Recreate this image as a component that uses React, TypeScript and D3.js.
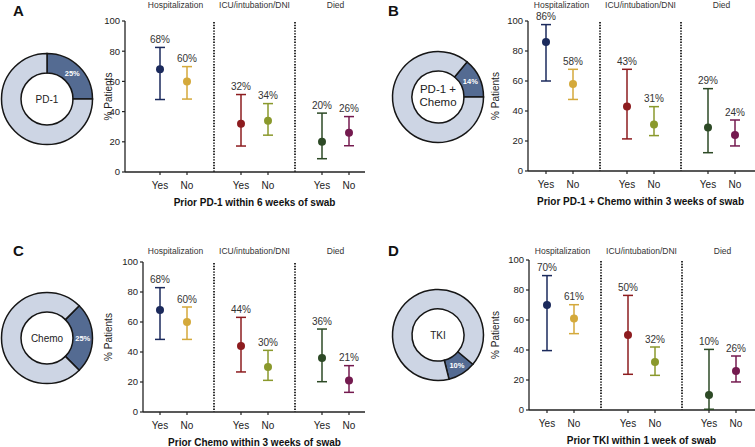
import React from "react";
import * as d3 from "d3";

const outcomes = ["Hospitalization", "ICU/intubation/DNI", "Died"];
const groupLabels = ["Yes", "No", "Yes", "No", "Yes", "No"];
const panelLetters = ["A", "B", "C", "D"];
const donutLabels = [["PD-1"], ["PD-1 +", "Chemo"], ["Chemo"], ["TKI"]];
const donutPct = [25, 14, 25, 10];
const titles = [
  "Prior PD-1 within 6 weeks of swab",
  "Prior PD-1 + Chemo within 3 weeks of swab",
  "Prior Chemo within 3 weeks of swab",
  "Prior TKI within 1 week of swab",
];
const yTicks = [0, 20, 40, 60, 80, 100];

const valuesA = [68, 60, 32, 34, 20, 26];
const lowA = [48, 48.3, 17.2, 24.4, 8.8, 17.4];
const highA = [82.5, 69.8, 51.3, 45.3, 39, 36.7];

const valuesB = [86, 58, 43, 31, 29, 24];
const lowB = [60, 47.7, 21.4, 23.6, 12.2, 16.7];
const highB = [97.6, 67.8, 67.8, 42.9, 54.9, 34];

const valuesC = [68, 60, 44, 30, 36, 21];
const lowC = [48.4, 48.4, 26.7, 21.1, 20.2, 13.1];
const highC = [82.9, 70, 63.1, 41.1, 55.3, 30.9];

const valuesD = [70, 61, 50, 32, 10, 26];
const lowD = [39.6, 50.9, 23.8, 23.1, 0.5, 18.7];
const highD = [89.6, 70.2, 76.4, 42, 40.4, 36];

const panelValues = [valuesA, valuesB, valuesC, valuesD];
const panelLow = [lowA, lowB, lowC, lowD];
const panelHigh = [highA, highB, highC, highD];

const seriesColors = ["#1b2a5c", "#d4a93b", "#8d1c1f", "#8a992c", "#2d4a26", "#741a4f"];
const slots = [0, 1, 3, 4, 6, 7];

const layouts = [
  { px: 0, axisX: 125, yTop: 21, yBottom: 172, firstX: 160, xEnd: 365, cx: 47, cy: 99, start: 0, headerY: 8, ylabX: 111.5, letterY: 16, dFont: 10 },
  { px: 375, axisX: 528, yTop: 21, yBottom: 171, firstX: 546, xEnd: 760, cx: 438, cy: 97, start: 39.6, headerY: 8, ylabX: 498.5, letterY: 16, dFont: 11.5 },
  { px: 0, axisX: 143, yTop: 262, yBottom: 412, firstX: 160, xEnd: 365, cx: 47, cy: 338, start: 45, headerY: 254, ylabX: 111.5, letterY: 256, dFont: 10 },
  { px: 375, axisX: 529, yTop: 260, yBottom: 410, firstX: 547, xEnd: 760, cx: 438, cy: 335, start: 130, headerY: 254, ylabX: 498.5, letterY: 256, dFont: 10 },
];

const FONT = "'Liberation Sans', Arial, Helvetica, sans-serif";
const TEXT = "#222";

function Panel({ i }: { i: number }) {
  const L = layouts[i];
  const y = d3.scaleLinear().domain([0, 100]).range([L.yBottom, L.yTop]);
  const x = d3.scaleLinear().domain([0, 1]).range([L.firstX, L.firstX + 27]);
  const vals = panelValues[i];
  const lo = panelLow[i];
  const hi = panelHigh[i];

  const pct = donutPct[i];
  const pie = d3
    .pie<number>()
    .sort(null)
    .startAngle((L.start * Math.PI) / 180)
    .endAngle((L.start * Math.PI) / 180 + 2 * Math.PI)(
    [pct, 100 - pct]
  );
  const arc = d3.arc<d3.PieArcDatum<number>>().innerRadius(26).outerRadius(45.5);
  const centroid = arc.centroid(pie[0]);
  const lbl = donutLabels[i];

  const capW = 5;

  return (
    <g fontFamily={FONT}>
      <text x={L.px + 13} y={L.letterY} fontSize={15} fontWeight="bold" fill="#111">
        {panelLetters[i]}
      </text>
      {/* donut */}
      <g transform={`translate(${L.cx},${L.cy})`}>
        {pie.map((d, k) => (
          <path key={k} d={arc(d) || ""} fill={k === 0 ? "#546b92" : "#cdd5e4"} stroke="#161616" strokeWidth={1.5} />
        ))}
        <text x={centroid[0]} y={centroid[1] + 2.7} textAnchor="middle" fontSize={7.5} fontWeight="bold" fill="#fff">
          {pct}%
        </text>
        {lbl.length === 1 ? (
          <text x={0} y={3.5} textAnchor="middle" fontSize={L.dFont} fill={TEXT}>
            {lbl[0]}
          </text>
        ) : (
          lbl.map((t, k) => (
            <text key={k} x={0} y={-3.8 + k * 12.4} textAnchor="middle" fontSize={L.dFont} fill={TEXT}>
              {t}
            </text>
          ))
        )}
      </g>
      {/* headers */}
      {outcomes.map((o, k) => (
        <text key={o} x={x(k * 3 + 0.5) + (k === 0 ? 2 : 0)} y={L.headerY} textAnchor="middle" fontSize={8.5} fill="#333">
          {o}
        </text>
      ))}
      {/* y axis */}
      <line x1={L.axisX} x2={L.axisX} y1={L.yTop} y2={L.yBottom} stroke="#222" strokeWidth={1.3} />
      {yTicks.map((t) => (
        <g key={t}>
          <line x1={L.axisX - 3} x2={L.axisX} y1={y(t)} y2={y(t)} stroke="#222" strokeWidth={1.2} />
          <text x={L.axisX - 5} y={y(t) + 3.3} textAnchor="end" fontSize={9.5} fill={TEXT}>
            {t}
          </text>
        </g>
      ))}
      <text
        transform={`translate(${L.ylabX},${(L.yTop + L.yBottom) / 2}) rotate(-90)`}
        textAnchor="middle"
        fontSize={10}
        fill={TEXT}
      >
        % Patients
      </text>
      {/* x axis */}
      <line x1={L.axisX} x2={L.xEnd} y1={L.yBottom} y2={L.yBottom} stroke="#222" strokeWidth={1.3} />
      {/* dotted separators */}
      {[2, 5].map((s) => (
        <line key={s} x1={x(s)} x2={x(s)} y1={L.yTop + 1} y2={L.yBottom} stroke="#1a1a1a" strokeWidth={1.8} strokeDasharray="1.4,1.4" />
      ))}
      {/* points */}
      {vals.map((v, k) => {
        const px = x(slots[k]);
        const c = seriesColors[k];
        return (
          <g key={k}>
            <line x1={px} x2={px} y1={L.yBottom} y2={L.yBottom + 3} stroke="#222" strokeWidth={1.2} />
            <line x1={px} x2={px} y1={y(lo[k])} y2={y(hi[k])} stroke={c} strokeWidth={1.5} />
            <line x1={px - capW} x2={px + capW} y1={y(lo[k])} y2={y(lo[k])} stroke={c} strokeWidth={1.5} />
            <line x1={px - capW} x2={px + capW} y1={y(hi[k])} y2={y(hi[k])} stroke={c} strokeWidth={1.5} />
            <circle cx={px} cy={y(v)} r={4} fill={c} />
            <text x={px} y={y(hi[k]) - 4.5} textAnchor="middle" fontSize={10} fill="#333">
              {v}%
            </text>
            <text x={px} y={L.yBottom + 17} textAnchor="middle" fontSize={10} fill={TEXT}>
              {groupLabels[k]}
            </text>
          </g>
        );
      })}
      <text x={x(3.5)} y={L.yBottom + 33.5} textAnchor="middle" fontSize={10} fontWeight="bold" fill="#111">
        {titles[i]}
      </text>
    </g>
  );
}

export default function App() {
  return (
    <svg width={755} height={447} style={{ position: "absolute", left: 0, top: 0, background: "#fff" }}>
      <rect width={755} height={447} fill="#fff" />
      {[0, 1, 2, 3].map((i) => (
        <Panel key={i} i={i} />
      ))}
    </svg>
  );
}
